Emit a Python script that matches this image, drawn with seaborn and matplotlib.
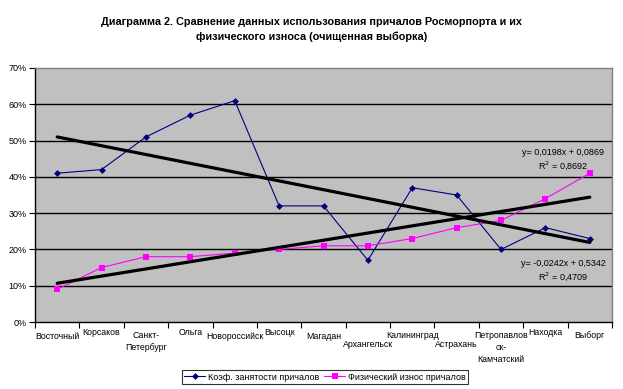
import numpy as np
import pandas as pd
import matplotlib
matplotlib.use("Agg")
import matplotlib.pyplot as plt
import seaborn as sns
from matplotlib.ticker import PercentFormatter, FixedLocator

ports = ["Восточный", "Корсаков", "Санкт-\nПетербург", "Ольга", "Новороссийск",
         "Высоцк", "Магадан", "Архангельск", "Калининград", "Астрахань",
         "Петропавлов\nск-\nКамчатский", "Находка", "Выборг"]
occupancy = [0.41, 0.42, 0.51, 0.57, 0.61, 0.32, 0.32, 0.17, 0.37, 0.35, 0.20, 0.26, 0.23]
wear = [0.09, 0.15, 0.18, 0.18, 0.19, 0.20, 0.21, 0.21, 0.23, 0.26, 0.28, 0.34, 0.41]
label_occ = "Коэф. занятости причалов"
label_wear = "Физический износ причалов"
eq_wear = "y= 0,0198x + 0,0869\nR$^2$ = 0,8692"
eq_occ = "y= -0,0242x + 0,5342\nR$^2$ = 0,4709"

sns.set_theme(style="white")
plt.rcParams["font.family"] = ["Liberation Sans", "DejaVu Sans"]
plt.rcParams["text.color"] = "black"
plt.rcParams["xtick.color"] = "black"
plt.rcParams["ytick.color"] = "black"

df = pd.DataFrame({"x": np.arange(len(ports)), "occ": occupancy, "wear": wear})

fig = plt.figure(figsize=(6.23, 3.89), dpi=100)
fig.patch.set_facecolor("white")
ax = fig.add_axes([35 / 623, 67 / 389, 577 / 623, 254 / 389])
ax.set_facecolor("#C0C0C0")

for v in np.arange(0.1, 0.7, 0.1):
    ax.axhline(v, color="black", lw=1, zorder=1)

sns.lineplot(data=df, x="x", y="occ", ax=ax, color="#000080", lw=0.8,
             marker="D", markersize=3.5, markeredgewidth=0, label=label_occ, zorder=3)
sns.lineplot(data=df, x="x", y="wear", ax=ax, color="#FF00FF", lw=0.8,
             marker="s", markersize=5, markeredgewidth=0, label=label_wear, zorder=3)
sns.regplot(data=df, x="x", y="occ", ax=ax, scatter=False, ci=None,
            line_kws={"color": "black", "lw": 2.3, "zorder": 4})
sns.regplot(data=df, x="x", y="wear", ax=ax, scatter=False, ci=None,
            line_kws={"color": "black", "lw": 2.3, "zorder": 4})

ax.set_xlim(-0.5, len(ports) - 0.5)
ax.set_ylim(0, 0.7)
ax.set_xlabel("")
ax.set_ylabel("")
ax.yaxis.set_major_locator(FixedLocator(np.arange(0, 0.71, 0.1)))
ax.yaxis.set_major_formatter(PercentFormatter(1.0, decimals=0))
ax.xaxis.set_major_locator(FixedLocator(np.arange(-0.5, len(ports), 1.0)))
ax.set_xticklabels([])
ax.tick_params(axis="both", which="major", length=4, width=0.8, color="black",
               direction="out", labelsize=6.5, pad=2, labelcolor="black")
ax.tick_params(axis="x", bottom=True)
ax.tick_params(axis="y", left=True)

for s in ["left", "bottom"]:
    ax.spines[s].set_color("black")
    ax.spines[s].set_linewidth(1)
for s in ["top", "right"]:
    ax.spines[s].set_color("#808080")
    ax.spines[s].set_linewidth(1)

# staggered category labels as in the original
offsets = [-0.038, -0.025, -0.035, -0.022, -0.04, -0.022, -0.04, -0.072,
           -0.035, -0.072, -0.035, -0.022, -0.035]
tr = ax.get_xaxis_transform()
for i, (name, off) in enumerate(zip(ports, offsets)):
    ax.text(i, off, name, transform=tr, ha="center", va="top", fontsize=6.3,
            linespacing=1.45)

ax.text(11.4, 0.446, eq_wear, ha="center", va="center", fontsize=6.5, linespacing=1.2)
ax.text(11.4, 0.14, eq_occ, ha="center", va="center", fontsize=6.5, linespacing=1.2)

fig.text(0.5, 0.925, "Диаграмма 2. Сравнение данных использования причалов Росморпорта и их\n"
         "физического износа (очищенная выборка)", ha="center", va="center",
         fontsize=7.8, fontweight="bold", linespacing=1.5)

leg = ax.legend(loc="center", bbox_to_anchor=(325 / 623, 1 - 377 / 389),
                bbox_transform=fig.transFigure, ncol=2, fontsize=6.5, frameon=True,
                fancybox=False, borderpad=0.3, handlelength=2.3, columnspacing=0.6,
                handletextpad=0.3)
leg.get_frame().set_edgecolor("black")
leg.get_frame().set_linewidth(0.8)

fig.savefig("out.png", dpi=100)
